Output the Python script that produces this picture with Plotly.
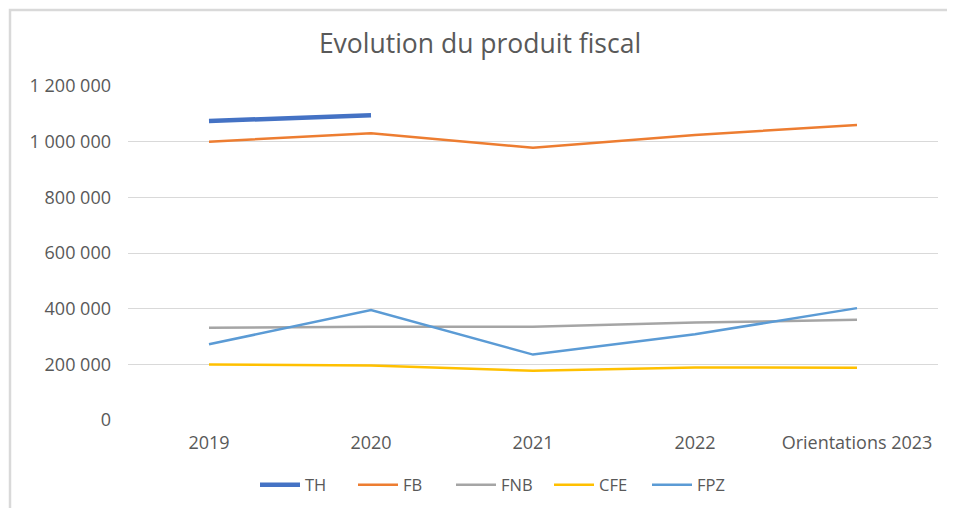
import plotly.graph_objects as go

categories = ["2019", "2020", "2021", "2022", "Orientations 2023"]
th = [1074000, 1095000, None, None, None]
fb = [1000000, 1030000, 978000, 1024000, 1060000]
fnb = [331000, 335000, 335000, 350000, 360000]
cfe = [199000, 196000, 177000, 189000, 188000]
fpz = [272000, 395000, 235000, 308000, 402000]

y_tickvals = [0, 200000, 400000, 600000, 800000, 1000000, 1200000]
y_ticktext = ["0", "200 000", "400 000", "600 000", "800 000", "1 000 000", "1 200 000"]

series = [
    ("TH", th, "#4472C4", 4.5),
    ("FB", fb, "#ED7D31", 2.5),
    ("FNB", fnb, "#A5A5A5", 2.5),
    ("CFE", cfe, "#FFC000", 2.5),
    ("FPZ", fpz, "#5B9BD5", 2.5),
]

# page body has an 8px margin; build the figure to fit the rest of the window
OFF = 8
W, H = 955 - OFF, 508 - OFF
ML, MR, MT, MB = 128 - OFF, 17, 86 - OFF, 88

fig = go.Figure()
for name, vals, color, width in series:
    fig.add_trace(go.Scatter(
        x=categories, y=vals, name=name, mode="lines",
        line=dict(color=color, width=width),
        connectgaps=False,
    ))

pw = W - ML - MR
ph = H - MT - MB
def px_x(p):
    return (p - ML) / pw
def px_y(p):
    return (H - MB - p) / ph

fig.update_layout(
    width=W, height=H,
    margin=dict(l=ML, r=MR, t=MT, b=MB),
    paper_bgcolor="white", plot_bgcolor="white",
    font=dict(family="Open Sans", color="#595959", size=18),
    title=dict(text="Evolution du produit fiscal", x=(480 - OFF) / W, xanchor="center",
               y=1 - (44 - OFF) / H, yanchor="middle", yref="container",
               font=dict(size=26.5, color="#595959", family="Open Sans")),
    xaxis=dict(type="category", range=[-0.5, 4.5], showgrid=False, zeroline=False,
               showline=False, ticks="", ticklabelstandoff=10,
               tickfont=dict(size=18, color="#595959")),
    yaxis=dict(range=[0, 1200000], tickvals=y_tickvals, ticktext=y_ticktext,
               showgrid=True, gridcolor="#D9D9D9", gridwidth=1.3, zeroline=False,
               showline=False, ticks="", ticklabelstandoff=16,
               tickfont=dict(size=18, color="#595959")),
    legend=dict(orientation="h", x=(500 - OFF) / W, xanchor="center", xref="container",
                y=1 - (485 - OFF) / H, yanchor="middle", yref="container",
                font=dict(size=16.5, color="#595959"), itemwidth=40,
                entrywidth=43, entrywidthmode="pixels",
                traceorder="normal"),
    showlegend=True,
    shapes=[dict(type="rect", xref="paper", yref="paper",
                 x0=px_x(10 - OFF), x1=px_x(W + 10), y0=px_y(H + 10), y1=px_y(10 - OFF),
                 line=dict(color="#D9D9D9", width=2.5), fillcolor="rgba(0,0,0,0)",
                 layer="below")],
)

fig.write_html("out.html")
